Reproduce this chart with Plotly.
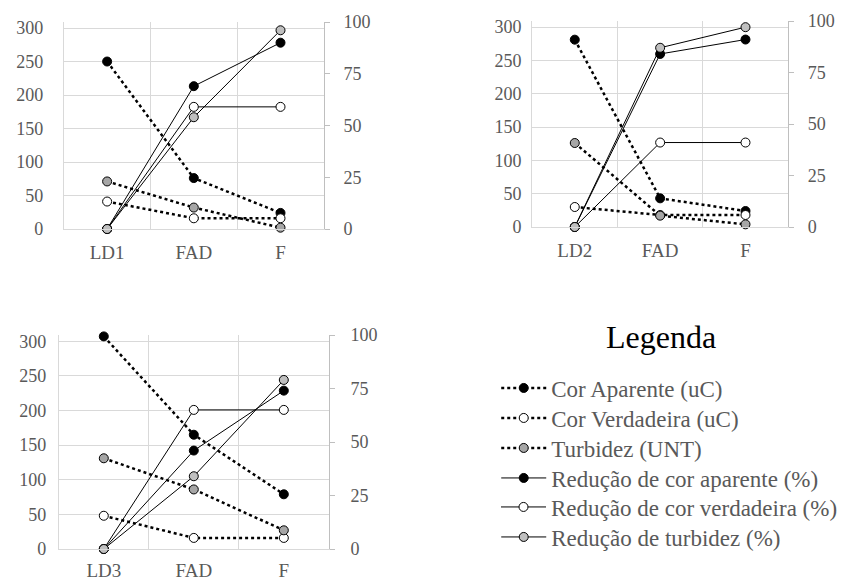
import plotly.graph_objects as go

# ---------------- data ----------------
series_names = ["Cor Aparente (uC)", "Cor Verdadeira (uC)", "Turbidez (UNT)",
                "Redução de cor aparente (%)", "Redução de cor verdadeira (%)",
                "Redução de turbidez (%)"]

cats_1 = ["LD1", "FAD", "F"]
cats_2 = ["LD2", "FAD", "F"]
cats_3 = ["LD3", "FAD", "F"]

left_ticks = [0, 50, 100, 150, 200, 250, 300]
right_ticks = [0, 25, 50, 75, 100]

cor_aparente_1 = [250, 76, 24]
cor_verdadeira_1 = [41, 16, 16]
turbidez_1 = [71, 32, 2]
red_cor_aparente_1 = [0, 69, 90]
red_cor_verdadeira_1 = [0, 59, 59]
red_turbidez_1 = [0, 54, 96]

cor_aparente_2 = [281, 43, 24]
cor_verdadeira_2 = [30, 18, 18]
turbidez_2 = [126, 17, 4]
red_cor_aparente_2 = [0, 84, 91]
red_cor_verdadeira_2 = [0, 41, 41]
red_turbidez_2 = [0, 87, 97]

cor_aparente_3 = [307, 165, 79]
cor_verdadeira_3 = [48, 16, 16]
turbidez_3 = [131, 86, 27]
red_cor_aparente_3 = [0, 46, 74]
red_cor_verdadeira_3 = [0, 65, 65]
red_turbidez_3 = [0, 34, 79]

panels = [
    (cats_1, [cor_aparente_1, cor_verdadeira_1, turbidez_1],
     [red_cor_aparente_1, red_cor_verdadeira_1, red_turbidez_1]),
    (cats_2, [cor_aparente_2, cor_verdadeira_2, turbidez_2],
     [red_cor_aparente_2, red_cor_verdadeira_2, red_turbidez_2]),
    (cats_3, [cor_aparente_3, cor_verdadeira_3, turbidez_3],
     [red_cor_aparente_3, red_cor_verdadeira_3, red_turbidez_3]),
]

# ---------------- styles ----------------
FONT = "Liberation Serif, Times New Roman, serif"
GRID = "#d9d9d9"
AXIS = "#bfbfbf"
TXT = "#595959"
W, H = 843, 585

marker_fill = ["#000000", "#ffffff", "#a6a6a6", "#000000", "#ffffff", "#bfbfbf"]

# pixel boxes of the plot areas: (x0, x1, ytop, ybottom)
boxes = [(64, 325, 22, 229), (534, 791, 21, 227), (59, 330, 335, 549)]
left_standoff = [16, 6, 8]
right_standoff = [10, 10, 12]
x_standoff = [6, 6, 4]

# legend rows (pixel centres) and legend x position
legend_rows = [388, 418, 448, 478, 507, 537]
legend_x = 498
legend_names = ["legend", "legend2", "legend3", "legend4", "legend5", "legend6"]

fig = go.Figure()

for p, (cats, left_series, right_series) in enumerate(panels):
    xa = "x" if p == 0 else f"x{p + 1}"
    yl = "y" if p == 0 else f"y{2 * p + 1}"
    yr = f"y{2 * p + 2}"
    all_series = left_series + right_series
    for s, vals in enumerate(all_series):
        dotted = s < 3
        fig.add_trace(go.Scatter(
            x=cats, y=vals, name=series_names[s],
            mode="lines+markers", cliponaxis=False,
            xaxis=xa, yaxis=(yl if dotted else yr),
            line=dict(color="#000000", width=(2.5 if dotted else 1),
                      dash=("dot" if dotted else "solid")),
            marker=dict(size=9, color=marker_fill[s],
                        line=dict(color="#000000", width=1)),
            showlegend=(p == 0),
            legend=legend_names[s],
        ))

layout = dict(
    width=W, height=H,
    margin=dict(l=0, r=0, t=0, b=0),
    paper_bgcolor="white", plot_bgcolor="white",
    font=dict(family=FONT, color=TXT),
    annotations=[dict(
        text="Legenda", x=663 / W, y=1 - 337 / H, xref="paper", yref="paper",
        xanchor="center", yanchor="middle", showarrow=False,
        font=dict(family=FONT, size=32, color="#000000"),
    )],
)

for k, ln in enumerate(legend_names):
    layout[ln] = dict(
        x=legend_x / W, xanchor="left",
        y=1 - legend_rows[k] / H, yanchor="middle",
        font=dict(family=FONT, size=23, color=TXT),
        itemwidth=45, bgcolor="rgba(0,0,0,0)",
    )

for p, (cats, _, _) in enumerate(panels):
    x0, x1, yt, yb = boxes[p]
    xdom = [x0 / W, x1 / W]
    ydom = [1 - yb / H, 1 - yt / H]
    xkey = "xaxis" if p == 0 else f"xaxis{p + 1}"
    ylkey = "yaxis" if p == 0 else f"yaxis{2 * p + 1}"
    yrkey = f"yaxis{2 * p + 2}"
    yl_ref = "y" if p == 0 else f"y{2 * p + 1}"
    x_ref = "x" if p == 0 else f"x{p + 1}"
    layout[xkey] = dict(
        domain=xdom, anchor=yl_ref, type="category",
        categoryorder="array", categoryarray=cats,
        range=[-0.5, 2.5], automargin=False,
        showgrid=True, gridcolor=GRID, gridwidth=1, tickson="boundaries",
        ticks="", showline=True, linecolor=GRID, linewidth=1,
        zeroline=False, ticklabelstandoff=x_standoff[p],
        tickfont=dict(family=FONT, size=19, color=TXT),
    )
    layout[ylkey] = dict(
        domain=ydom, anchor=x_ref, range=[0, 309], automargin=False,
        tickvals=left_ticks, showgrid=True, gridcolor=GRID, gridwidth=1,
        showline=True, linecolor=GRID, zeroline=False, ticks="",
        ticklabelstandoff=left_standoff[p],
        tickfont=dict(family=FONT, size=18, color=TXT),
    )
    layout[yrkey] = dict(
        domain=ydom, anchor=x_ref, overlaying=yl_ref, side="right",
        range=[0, 100], tickvals=right_ticks, showgrid=False, automargin=False,
        showline=True, linecolor=AXIS, linewidth=1, zeroline=False,
        ticks="outside", ticklen=5, tickcolor=AXIS,
        ticklabelstandoff=right_standoff[p],
        tickfont=dict(family=FONT, size=18, color=TXT),
    )

fig.update_layout(**layout)
fig.write_html("out.html", config={"displayModeBar": False},
               post_script="document.body.style.margin='0px';")
